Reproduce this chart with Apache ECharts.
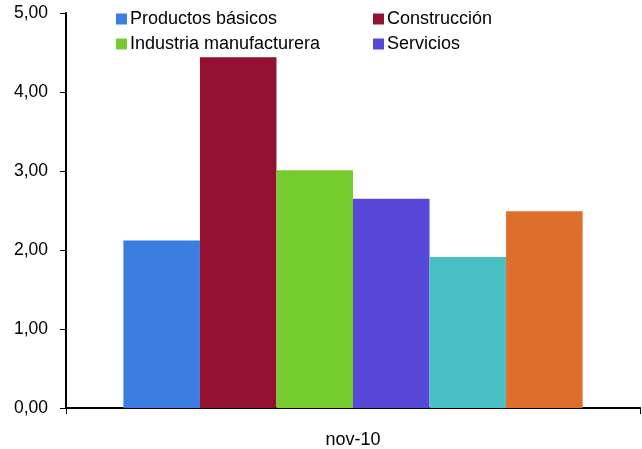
<!DOCTYPE html>
<html><head><meta charset="utf-8">
<script src="https://cdn.jsdelivr.net/npm/echarts@6/dist/echarts.min.js"></script>
<style>html,body{margin:0;padding:0;background:#fff}#c{width:642px;height:449px}</style>
</head><body><div id="c"></div>
<script>
const categories = ['nov-10'];
const seriesNames = ['Productos básicos','Construcción','Industria manufacturera','Servicios','Otros 1','Otros 2'];
const seriesValues = [[2.12],[4.44],[3.01],[2.65],[1.91],[2.49]];
const colors = ['#3b7de3','#941030','#74cc2e','#5748da','#48c0c4','#df6e2d'];
const legendCol1 = ['Productos básicos','Industria manufacturera'];
const legendCol2 = ['Construcción','Servicios'];

const chart = echarts.init(document.getElementById('c'));
const font = 'Liberation Sans, Arial, sans-serif';
const legendBase = {
  orient: 'vertical', top: 5, itemWidth: 11, itemHeight: 11, itemGap: 7,
  icon: 'rect', textStyle: {fontFamily: font, fontSize: 18, color: '#000', padding: [0,0,0,-2]}
};
chart.setOption({
  animation: false,
  grid: {left: 66, right: 2, top: 13, bottom: 40},
  legend: [
    Object.assign({}, legendBase, {left: 111, data: legendCol1}),
    Object.assign({}, legendBase, {left: 368, data: legendCol2})
  ],
  xAxis: {
    type: 'category', data: categories,
    axisLine: {lineStyle: {color: '#000', width: 2}},
    axisTick: {show: true, length: 6, lineStyle: {color: '#000', width: 1}},
    axisLabel: {fontFamily: font, fontSize: 18, color: '#000', margin: 23}
  },
  yAxis: {
    type: 'value', min: 0, max: 5, interval: 1,
    axisLine: {show: true, lineStyle: {color: '#000', width: 2}},
    axisTick: {show: true, length: 6, lineStyle: {color: '#000', width: 1}},
    splitLine: {show: false},
    axisLabel: {fontFamily: font, fontSize: 17.5, color: '#000', margin: 18,
      formatter: v => v.toFixed(2).replace('.', ',')}
  },
  series: seriesNames.map((n, i) => ({
    name: n, type: 'bar', data: seriesValues[i], barGap: '0%', barCategoryGap: '20%',
    itemStyle: {color: colors[i]}
  }))
});
</script></body></html>
